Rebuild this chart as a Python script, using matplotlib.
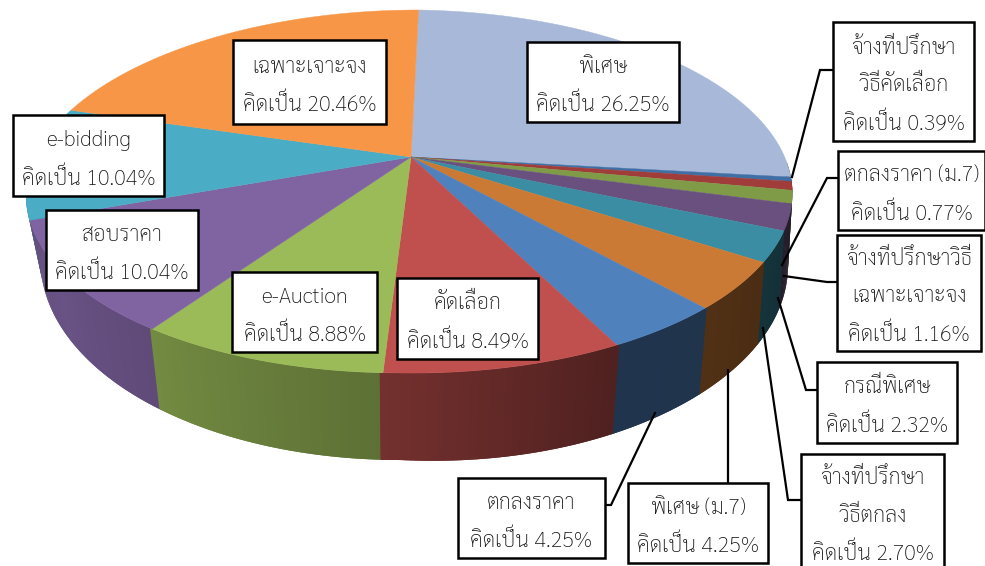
import numpy as np
import matplotlib
matplotlib.use('Agg')
import matplotlib.pyplot as plt
from matplotlib.patches import Rectangle

plt.rcParams['font.family'] = ['Sarabun', 'Noto Sans Thai Looped', 'DejaVu Sans']

# === Data ===

names = [['พิเศษ'],
         ['จ้างที่ปรึกษา', 'วิธีคัดเลือก'],
         ['ตกลงราคา (ม.7)'],
         ['จ้างที่ปรึกษาวิธี', 'เฉพาะเจาะจง'],
         ['กรณีพิเศษ'],
         ['จ้างที่ปรึกษา', 'วิธีตกลง'],
         ['พิเศษ (ม.7)'],
         ['ตกลงราคา'],
         ['คัดเลือก'],
         ['e-Auction'],
         ['สอบราคา'],
         ['e-bidding'],
         ['เฉพาะเจาะจง']]
values = [26.25, 0.39, 0.77, 1.16, 2.32, 2.70, 4.25, 4.25, 8.49, 8.88, 10.04, 10.04, 20.46]

# === Style ===

top_colors = ['#A7B8D9', '#3F6FA5', '#A03C3A', '#7F9B48', '#69507F', '#3A8DA2', '#CB7A35',
              '#4F81BD', '#C0504D', '#9BBB59', '#8064A2', '#4BACC6', '#F79646']

# left, top, right, bottom of each label box
boxes = [(527, 42, 679, 122), (833, 22, 974, 141), (838, 151, 985, 230), (837, 235, 981, 351),
         (817, 362, 957, 443), (801, 454, 944, 573), (628, 483, 768, 563), (458, 478, 605, 558),
         (397, 278, 538, 359), (232, 272, 377, 352), (46, 210, 198, 290), (13, 115, 164, 196),
         (233, 40, 386, 124)]

leaders = {1: [(792, 177), (820, 70), (833, 70)],
           2: [(782, 265), (827, 178), (838, 178)],
           3: [(784, 276), (827, 282), (837, 282)],
           4: [(778, 298), (806, 390), (817, 390)],
           5: [(763, 328), (788, 500), (801, 500)],
           6: [(728, 370), (728, 483)],
           7: [(655, 413), (611, 505), (605, 505)]}

# shading of the side wall by angle
shade_angles = [90, 115, 135, 152, 182, 214, 235, 250, 270]
shade_levels = [.35, .35, .40, .41, .60, .74, .82, .78, .78]


def top_rim(theta):
    x, y = np.sin(theta), np.cos(theta)
    w = 1 + 0.19 * y
    return 411 + (376 * x + 9 * y) / w, (157 - 145.1 * y + 6 * np.maximum(x, 0)) / w


def bottom_rim(theta):
    x, y = np.sin(theta), np.cos(theta)
    w = 1 + 0.19 * y
    px = 362 * x + 10 * np.maximum(x, 0) ** 3 + 9 * y
    return 411 + px / w, (215 - 157.6 * y + 18 * np.maximum(x, 0)) / w


# === Plot ===

fig = plt.figure(figsize=(9.85, 5.66), dpi=100)
ax = fig.add_axes([0, 0, 1, 1])
ax.set_xlim(0, 985)
ax.set_ylim(566, 0)
ax.axis('off')

edges = np.cumsum([0] + values) / sum(values) * 360

# Side walls, from the back round to the front
wall = []
for i, col in enumerate(top_colors):
    for a in np.arange(edges[i], edges[i + 1], 0.5):
        b = min(a + 0.5, edges[i + 1])
        if 90 < b and a < 270:
            wall.append((abs(a - 180), a, b, col))
for _, a, b, col in sorted(wall, key=lambda w: -w[0]):
    # overlap the strips round it so no seam shows
    t = np.radians([a - 0.4, b + 0.15]) if a < 180 else np.radians([a - 0.15, b + 0.4])
    x1, y1 = top_rim(t)
    x2, y2 = bottom_rim(t[::-1])
    rgb = np.array(matplotlib.colors.to_rgb(col)) * np.interp((a + b) / 2, shade_angles, shade_levels)
    ax.fill(np.r_[x1, x2], np.r_[y1, y2], color=rgb, lw=0, zorder=1)

# Top face
for i, col in enumerate(top_colors):
    t = np.radians(np.linspace(edges[i], edges[i + 1], 120))
    x, y = top_rim(t)
    ax.fill(np.r_[411, x], np.r_[157, y], color=col, lw=0.3, zorder=2)

# Leader lines
for pts in leaders.values():
    px, py = zip(*pts)
    ax.plot(px, py, color='black', lw=1.6, zorder=3, solid_joinstyle='miter')

# Labels
for name, val, (l, t, r, b) in zip(names, values, boxes):
    ax.add_patch(Rectangle((l, t), r - l, b - t, fc='white', ec='black', lw=1.8, zorder=4))
    lines = name + [f'คิดเป็น {val:.2f}%']
    cy = (t + b) / 2 if b < 566 else (t + 566) / 2 + 2
    for j, line in enumerate(lines):
        ax.text((l + r) / 2, cy + 4 + (j - (len(lines) - 1) / 2) * 37.5, line, ha='center', va='center',
                fontsize=15.6, fontweight='light', color='#111111', zorder=5)

fig.savefig('out.png', dpi=100)
